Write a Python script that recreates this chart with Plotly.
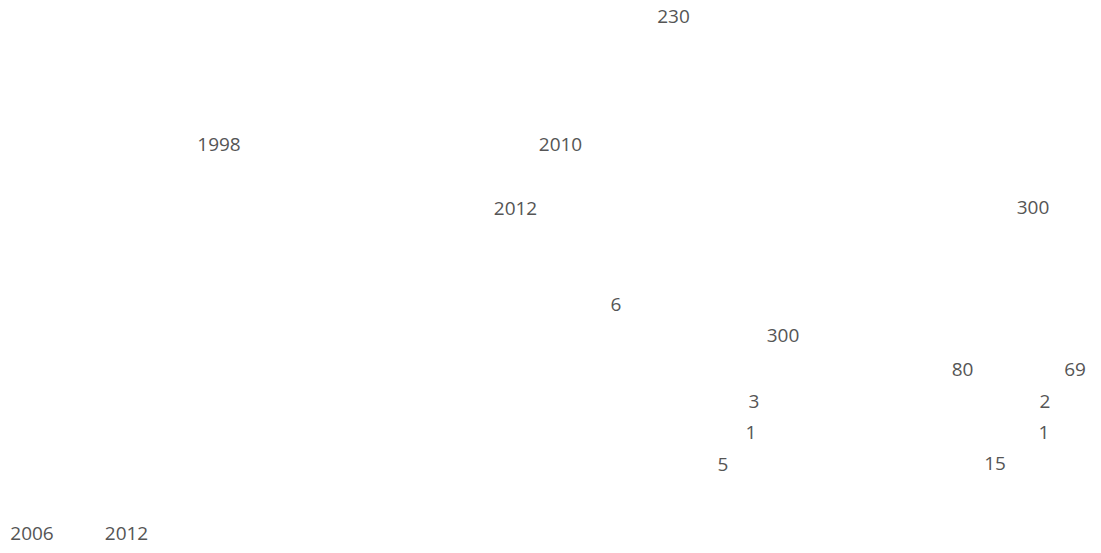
import plotly.graph_objects as go

# Year labels (text) and their positions (page-pixel units)
year_labels = ["1998", "2010", "2012", "2006", "2012"]
year_x = [219, 560.5, 515.5, 32, 126.5]
year_y = [146.5, 146.5, 210, 535, 535]

# Numeric value labels and their positions
value_labels = ["230", "300", "6", "300", "80", "69", "3", "2", "1", "1", "5", "15"]
value_x = [673.5, 1033, 616, 783, 962.5, 1075, 754, 1045, 751, 1044, 723, 995]
value_y = [18, 209, 306, 337, 371.5, 371.5, 403.5, 403.5, 434, 434.5, 466.5, 465]

W, H = 1101, 553
font = dict(family="Open Sans", size=19, color="#555555")

fig = go.Figure()
fig.add_trace(go.Scatter(x=year_x, y=year_y, text=year_labels, mode="text",
                         textposition="middle center", textfont=font,
                         hoverinfo="skip", showlegend=False, cliponaxis=False))
fig.add_trace(go.Scatter(x=value_x, y=value_y, text=value_labels, mode="text",
                         textposition="middle center", textfont=font,
                         hoverinfo="skip", showlegend=False, cliponaxis=False))

fig.update_layout(
    width=W, height=H,
    margin=dict(l=0, r=0, t=0, b=0),
    paper_bgcolor="white", plot_bgcolor="white",
    xaxis=dict(range=[0, W], visible=False, fixedrange=True),
    yaxis=dict(range=[H, 0], visible=False, fixedrange=True),
)
fig.write_html(
    "out.html",
    config={"displayModeBar": False},
    post_script="document.body.style.margin='0px';document.body.style.overflow='hidden';",
)
